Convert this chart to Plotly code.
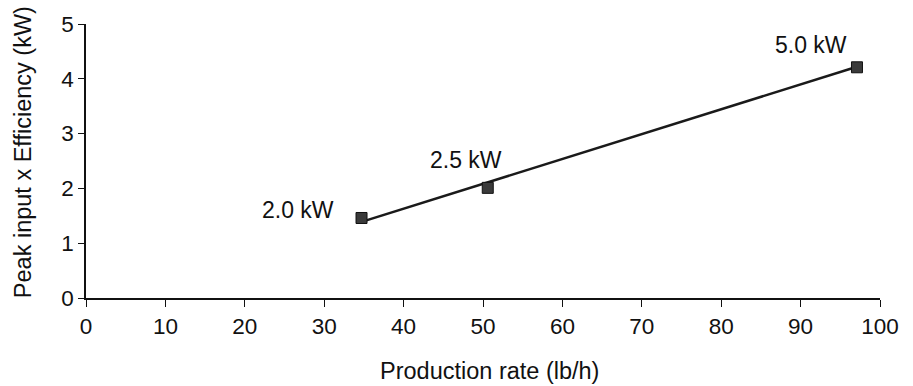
import plotly.graph_objects as go

# Data
production_rate = [34.7, 50.6, 97.1]          # lb/h
peak_x_eff = [1.46, 2.01, 4.21]               # kW
point_labels = ["2.0 kW", "2.5 kW", "5.0 kW"]

# Trend line endpoints
trend_x = [34.7, 97.1]
trend_y = [1.39, 4.22]

x_ticks = [0, 10, 20, 30, 40, 50, 60, 70, 80, 90, 100]
y_ticks = [0, 1, 2, 3, 4, 5]

FONT = "Liberation Sans, Arial, sans-serif"

fig = go.Figure()
fig.add_trace(go.Scatter(
    x=trend_x, y=trend_y, mode="lines",
    line=dict(color="#1a1a1a", width=2.5),
    showlegend=False, hoverinfo="skip",
))
fig.add_trace(go.Scatter(
    x=production_rate, y=peak_x_eff, mode="markers",
    marker=dict(symbol="square", size=11, color="#3a3a3a",
                line=dict(color="#111111", width=1)),
    showlegend=False, cliponaxis=False,
))

label_pos = [(26.74, 1.61), (47.83, 2.51), (91.25, 4.62)]
for txt, (lx, ly) in zip(point_labels, label_pos):
    fig.add_annotation(x=lx, y=ly, xref="x", yref="y", text=txt,
                       showarrow=False, xanchor="center", yanchor="middle",
                       font=dict(family=FONT, size=23, color="#111111"))

fig.add_annotation(x=0.5076, y=-0.266, xref="paper", yref="paper",
                   text="Production rate (lb/h)", showarrow=False,
                   xanchor="center", yanchor="middle",
                   font=dict(family=FONT, size=23.5, color="#111111"))
fig.add_annotation(x=-0.080, y=0.534, xref="paper", yref="paper",
                   text="Peak input x Efficiency (kW)", showarrow=False,
                   textangle=-90, xanchor="center", yanchor="middle",
                   font=dict(family=FONT, size=23.5, color="#111111"))

fig.update_xaxes(
    range=[0, 100], tickvals=x_ticks, ticktext=[str(v) for v in x_ticks],
    showline=True, linecolor="#111111", linewidth=1.5,
    ticks="outside", ticklen=7, tickwidth=1.2, tickcolor="#111111",
    showgrid=False, zeroline=False,
    tickfont=dict(family=FONT, size=22.5, color="#111111"),
)
fig.update_yaxes(
    range=[0, 5], tickvals=y_ticks, ticktext=[str(v) for v in y_ticks],
    showline=True, linecolor="#111111", linewidth=1.5,
    ticks="outside", ticklen=6, tickwidth=1.2, tickcolor="#111111",
    showgrid=False, zeroline=False,
    tickfont=dict(family=FONT, size=22.5, color="#111111"),
)

fig.update_layout(
    width=913, height=386,
    margin=dict(l=86, r=33, t=21, b=88, pad=0),
    plot_bgcolor="white", paper_bgcolor="white",
    font=dict(family=FONT, color="#111111"),
)

fig.write_html(
    "out.html",
    config={"displayModeBar": False},
    post_script="document.body.style.margin='0';document.body.style.padding='0';",
)
